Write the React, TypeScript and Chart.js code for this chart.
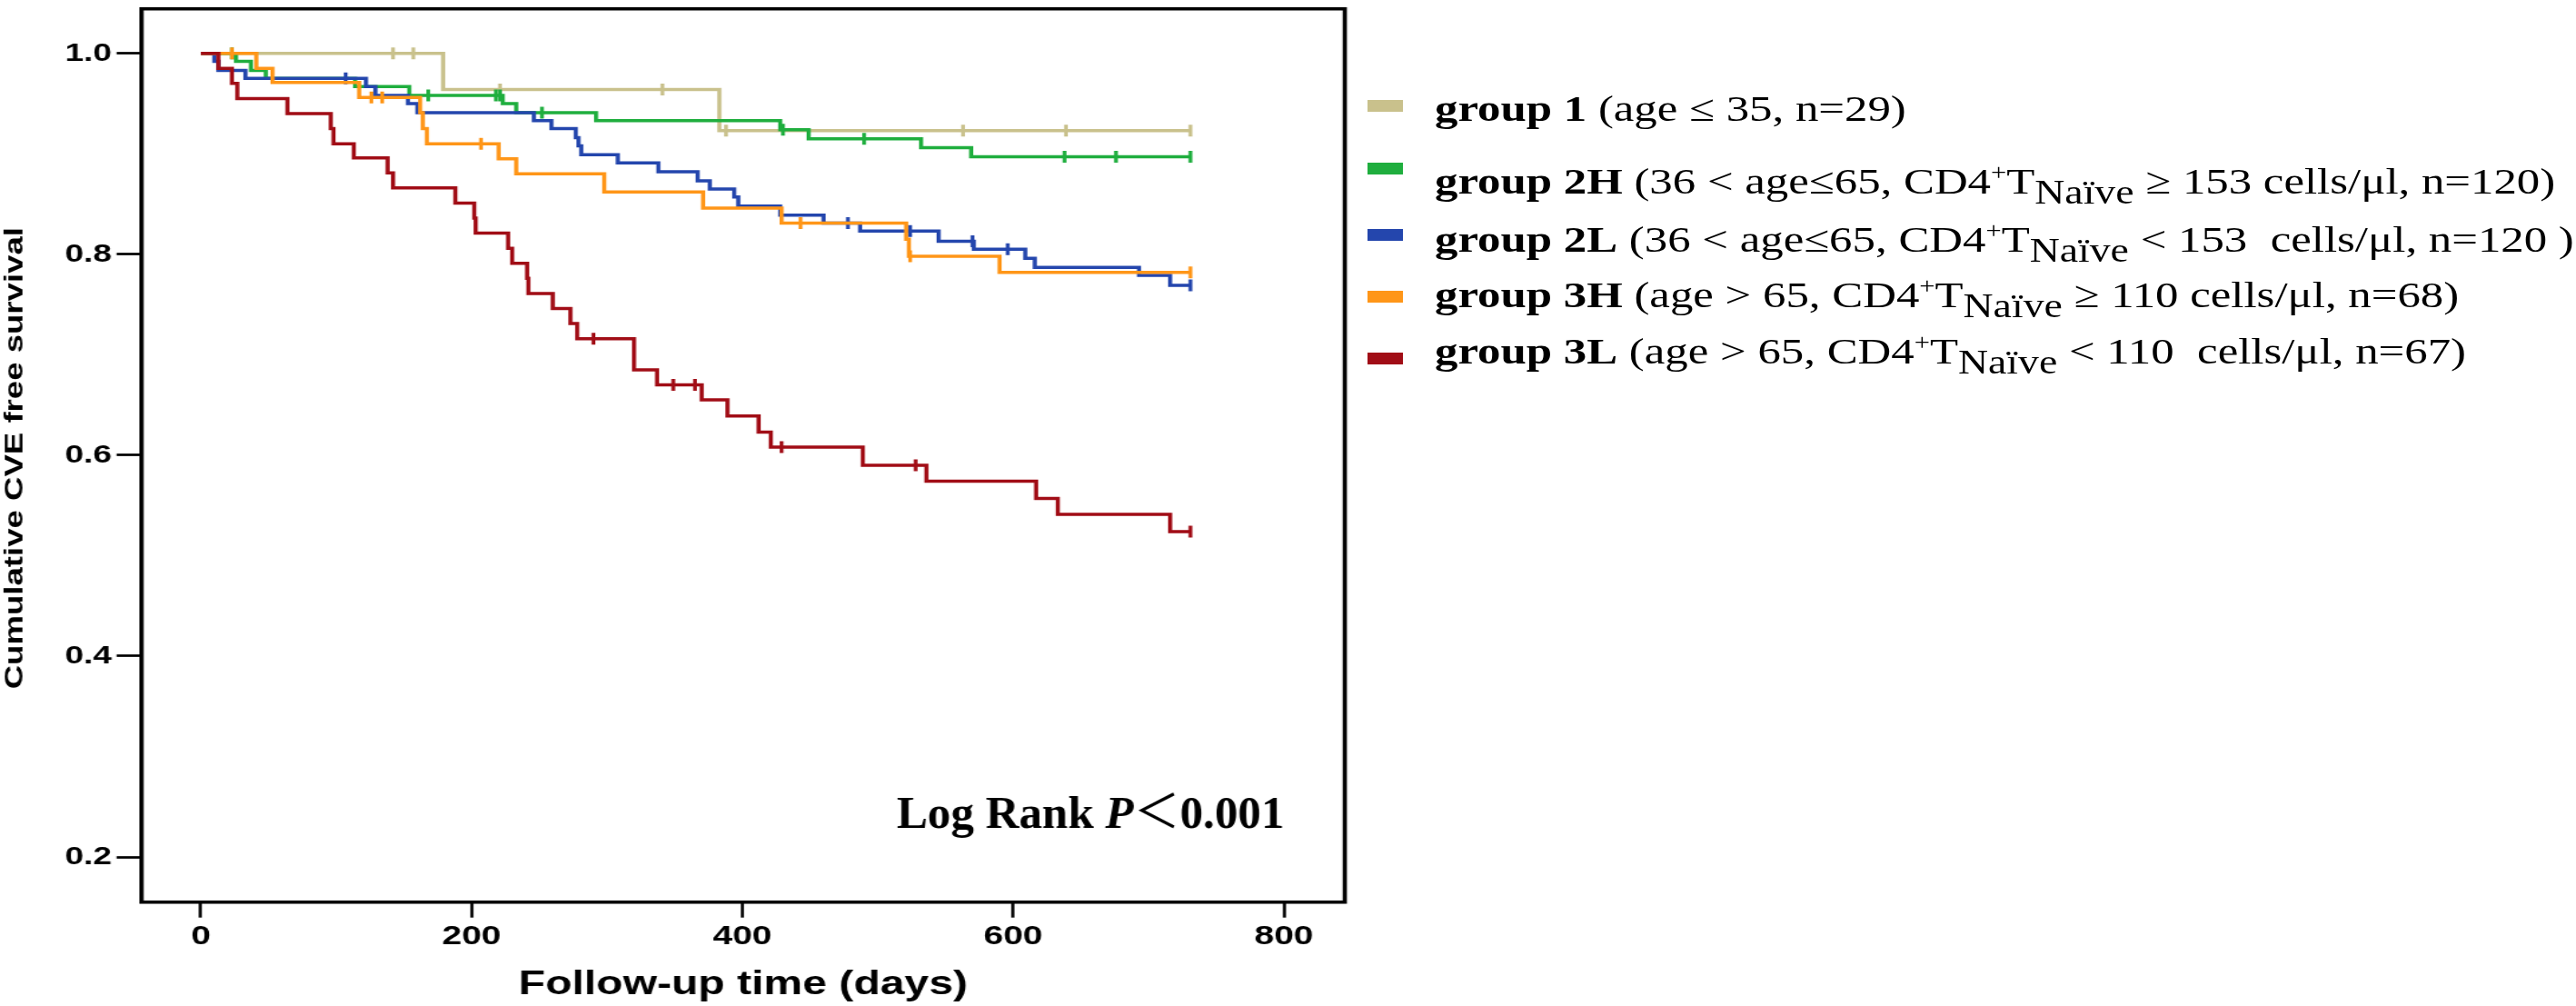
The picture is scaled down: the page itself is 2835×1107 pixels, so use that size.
import { useEffect, useRef } from 'react';
import { Chart, registerables } from 'chart.js';

Chart.register(...registerables);

// Kaplan-Meier steps: follow-up day of each drop and the survival right after it
const g1Days = [0, 179, 383, 731];
const g1Surv = [1, 0.964, 0.923, 0.923];
const g1Censored = [142, 157, 221, 341, 388, 563, 639, 731];

const g2hDays = [0, 26, 37, 48, 114, 154, 223, 233, 292, 428, 449, 532, 569, 731];
const g2hSurv = [1, 0.992, 0.983, 0.975, 0.967, 0.958, 0.95, 0.941, 0.933, 0.924, 0.915, 0.906, 0.897, 0.897];
const g2hCensored = [23, 168, 218, 221, 252, 430, 490, 638, 676, 731];

const g2lDays = [0, 10, 13, 33, 122, 129, 153, 160, 246, 259, 277, 279, 281, 308, 338, 367, 376, 394, 397, 428, 460, 487, 545, 571, 609, 616, 693, 716, 731];
const g2lSurv = [1, 0.992, 0.983, 0.975, 0.967, 0.958, 0.95, 0.941, 0.933, 0.925, 0.916, 0.908, 0.899, 0.891, 0.882, 0.873, 0.865, 0.857, 0.848, 0.839, 0.831, 0.823, 0.813, 0.805, 0.796, 0.787, 0.779, 0.769, 0.769];
const g2lCensored = [107, 478, 524, 570, 596, 731];

const g3hDays = [0, 41, 53, 117, 162, 164, 167, 220, 233, 298, 371, 429, 521, 523, 590, 731];
const g3hSurv = [1, 0.985, 0.971, 0.956, 0.941, 0.925, 0.91, 0.895, 0.88, 0.862, 0.846, 0.831, 0.815, 0.798, 0.782, 0.782];
const g3hCensored = [23, 126, 134, 207, 443, 524, 731];

const g3lDays = [0, 13, 23, 27, 64, 96, 98, 113, 138, 142, 188, 202, 203, 227, 230, 241, 242, 260, 273, 278, 320, 337, 370, 389, 412, 421, 489, 536, 617, 633, 716, 731];
const g3lSurv = [1, 0.985, 0.97, 0.955, 0.94, 0.925, 0.91, 0.896, 0.881, 0.866, 0.851, 0.836, 0.821, 0.806, 0.791, 0.776, 0.761, 0.746, 0.731, 0.716, 0.685, 0.67, 0.655, 0.639, 0.623, 0.608, 0.59, 0.574, 0.557, 0.541, 0.524, 0.524];
const g3lCensored = [290, 349, 365, 429, 528, 731];

const groupNames = ['group 1', 'group 2H', 'group 2L', 'group 3H', 'group 3L'];
const labelBefore = ['(age ≤ 35, n=29)', '(36 < age≤65, CD4', '(36 < age≤65, CD4', '(age > 65, CD4', '(age > 65, CD4'];
const labelAfter = ['', ' ≥ 153 cells/μl, n=120)', ' < 153  cells/μl, n=120 )', ' ≥ 110 cells/μl, n=68)', ' < 110  cells/μl, n=67)'];

const xTicks = [0, 200, 400, 600, 800];
const yTicks = [0.2, 0.4, 0.6, 0.8, 1.0];

const X_TITLE = 'Follow-up time (days)';
const Y_TITLE = 'Cumulative CVE free survival';

const allDays = [g1Days, g2hDays, g2lDays, g3hDays, g3lDays];
const allSurv = [g1Surv, g2hSurv, g2lSurv, g3hSurv, g3lSurv];
const allCensored = [g1Censored, g2hCensored, g2lCensored, g3hCensored, g3lCensored];
const colors = ['#c9c18c', '#1fae3e', '#2446ad', '#ff9618', '#a10d16'];

// the picture is stretched sideways; the chart is drawn narrower and scaled up
const W = 2835;
const H = 1107;
const CW = 2181;
const S = W / CW;
const SANS = '"Liberation Sans", Arial, sans-serif';
const SERIF = '"Liberation Serif", "Times New Roman", serif';

function survivalAt(days: number[], surv: number[], t: number) {
  let v = surv[0];
  for (let i = 0; i < days.length; i++) if (days[i] <= t) v = surv[i];
  return v;
}

const frameAndTitles = {
  id: 'frameAndTitles',
  afterDraw(chart: any) {
    const { ctx, chartArea: a, scales } = chart;
    ctx.save();
    ctx.strokeStyle = '#000';
    ctx.lineWidth = 3.6;
    ctx.strokeRect(a.left, a.top, a.right - a.left, a.bottom - a.top);

    ctx.fillStyle = '#000';
    ctx.textAlign = 'center';
    ctx.textBaseline = 'alphabetic';
    ctx.font = `bold 37px ${SANS}`;
    ctx.fillText(X_TITLE, (a.left + a.right) / 2, 1094);

    ctx.save();
    ctx.translate(25 / S, (a.top + a.bottom) / 2 + 3);
    ctx.rotate(-Math.PI / 2);
    ctx.scale(1, 0.62);
    ctx.font = `bold 36.6px ${SANS}`;
    ctx.fillText(Y_TITLE, 0, 0);
    ctx.restore();

    // log rank note is not stretched in the original
    ctx.save();
    ctx.translate(scales.x.getPixelForValue(514), scales.y.getPixelForValue(0.2287));
    ctx.scale(1 / S, 1);
    ctx.textAlign = 'left';
    const parts: [string, string][] = [
      ['Log Rank ', `bold 51px ${SERIF}`],
      ['P', `italic bold 51px ${SERIF}`],
      ['＜', `51px "Noto Sans CJK JP", "Noto Sans CJK SC", sans-serif`],
      ['0.001', `bold 51px ${SERIF}`],
    ];
    let x = 0;
    for (const [t, f] of parts) {
      ctx.font = f;
      ctx.fillText(t, x, 0);
      x += ctx.measureText(t).width;
    }
    ctx.restore();
    ctx.restore();
  },
};

export default function App() {
  const chartRef = useRef<HTMLCanvasElement>(null);

  useEffect(() => {
    if (!chartRef.current) return;
    const datasets: any[] = [];
    groupNames.forEach((name, i) => {
      const days = allDays[i];
      const surv = allSurv[i];
      datasets.push({
        label: name,
        data: days.map((d, k) => ({ x: d, y: surv[k] })),
        borderColor: colors[i],
        borderWidth: 3.5,
        stepped: 'before',
        pointRadius: 0,
        fill: false,
        borderJoinStyle: 'miter',
        order: 4 - i,
      });
      datasets.push({
        label: name + ' censored',
        data: allCensored[i].map((d) => ({ x: d, y: survivalAt(days, surv, d) })),
        showLine: false,
        pointStyle: 'line',
        pointRotation: 90,
        pointRadius: 6.5,
        pointBorderWidth: 3.2,
        pointBorderColor: colors[i],
        borderColor: colors[i],
        order: 4 - i,
      });
    });

    const chart = new Chart(chartRef.current, {
      type: 'line',
      data: { datasets },
      options: {
        animation: false,
        responsive: false,
        events: [],
        layout: { padding: { top: 3, left: 0, bottom: 0, right: CW - 1480 / S } },
        plugins: { legend: { display: false }, tooltip: { enabled: false } },
        scales: {
          x: {
            type: 'linear',
            min: -43.8,
            max: 845,
            afterBuildTicks: (s: any) => {
              s.ticks = xTicks.map((v) => ({ value: v }));
            },
            afterFit: (s: any) => {
              s.height = H - 992.7;
              s.paddingLeft = 0;
              s.paddingRight = 0;
            },
            ticks: {
              color: '#000',
              padding: 3,
              font: { family: SANS, size: 30, weight: 'bold' },
              callback: (v: any) => String(v),
            },
            grid: { display: true, drawOnChartArea: false, drawTicks: true, tickLength: 17, tickWidth: 2.6, tickColor: '#000' },
            border: { display: false },
          },
          y: {
            type: 'linear',
            min: 0.1551,
            max: 1.0443,
            afterBuildTicks: (s: any) => {
              s.ticks = yTicks.map((v) => ({ value: v }));
            },
            afterFit: (s: any) => {
              s.width = 155.7 / S;
              s.paddingTop = 0;
              s.paddingBottom = 0;
            },
            ticks: {
              color: '#000',
              padding: 4.1,
              font: { family: SANS, size: 28.5, weight: 'bold' },
              callback: (v: any) => Number(v).toFixed(1),
            },
            grid: { display: true, drawOnChartArea: false, drawTicks: true, tickLength: 27.4 / S, tickWidth: 2.7, tickColor: '#000' },
            border: { display: false },
          },
        },
      } as any,
      plugins: [frameAndTitles],
    });

    return () => chart.destroy();
  }, []);

  const baselines = [133, 213, 277, 338, 400];
  const swatchTops = [110, 179, 252, 320, 388];

  return (
    <div style={{ position: 'absolute', left: 0, top: 0, width: W, height: H, overflow: 'hidden', background: '#fff' }}>
      <div style={{ position: 'absolute', left: 0, top: 0, width: CW, height: H, transform: `scaleX(${S})`, transformOrigin: '0 0' }}>
        <canvas ref={chartRef} width={CW} height={H} style={{ display: 'block', width: CW, height: H }} />
      </div>
      {groupNames.map((name, i) => (
        <div key={name}>
          <div style={{ position: 'absolute', left: 1505, top: swatchTops[i], width: 39, height: 12.5, background: colors[i] }} />
          <div
            style={{
              position: 'absolute',
              left: 1579,
              top: baselines[i] - 34.3,
              whiteSpace: 'pre',
              fontFamily: SERIF,
              fontSize: 41,
              lineHeight: '41px',
              color: '#000',
              transform: 'scaleX(1.24)',
              transformOrigin: '0 0',
            }}
          >
            <b>{name}</b> {labelBefore[i]}
            {i > 0 && (
              <>
                <span style={{ position: 'relative', top: -15, fontSize: '0.6em' }}>+</span>
                T
                <span style={{ position: 'relative', top: 11, fontSize: '0.9em' }}>Naïve</span>
              </>
            )}
            {labelAfter[i]}
          </div>
        </div>
      ))}
    </div>
  );
}
